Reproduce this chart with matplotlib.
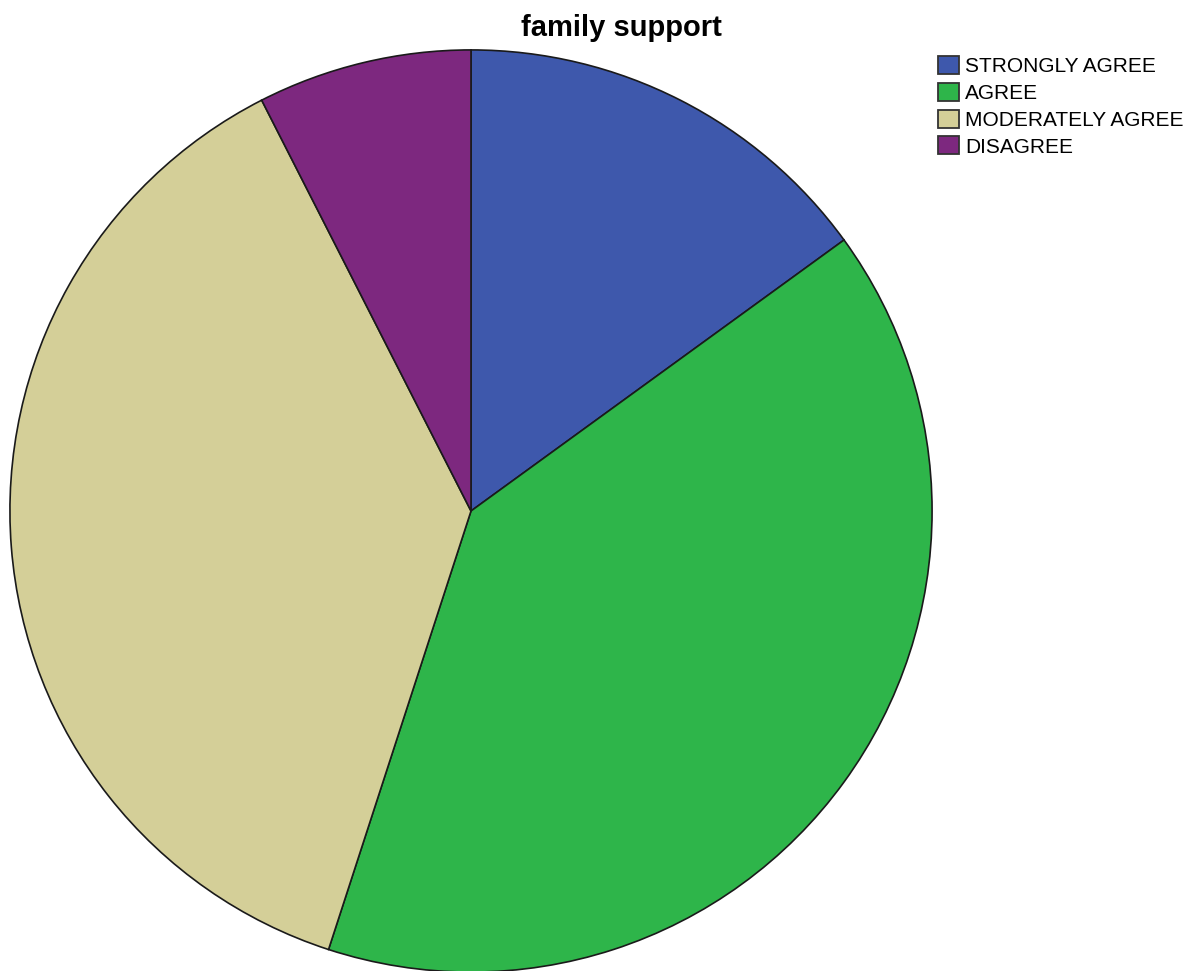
import matplotlib.pyplot as plt
from matplotlib.patches import Patch

labels = ['STRONGLY AGREE', 'AGREE', 'MODERATELY AGREE', 'DISAGREE']
values = [15.0, 40.0, 37.5, 7.5]
colors = ['#3e58ac', '#2eb54a', '#d4cf98', '#7d287f']

fig = plt.figure(figsize=(11.9, 9.71), dpi=100)
ax = fig.add_axes([9 / 1190, -2 / 971, 924 / 1190, 924 / 971])
ax.pie(values, colors=colors, startangle=90, counterclock=False, radius=1,
       wedgeprops=dict(edgecolor='#1a1a1a', linewidth=1.2))
ax.set_xlim(-1.002, 1.002)
ax.set_ylim(-1.002, 1.002)
ax.set_aspect('equal')
ax.axis('off')

fig.text(621 / 1190, 1 - 28 / 971, 'family support', ha='center', va='center',
         fontsize=21, fontweight='bold', family='Liberation Sans')

handles = [Patch(facecolor=c, edgecolor='#333333', linewidth=1.3) for c in colors]
fig.legend(handles, labels, loc='upper left', bbox_to_anchor=(938 / 1190, 1 - 56 / 971),
           frameon=False, handlelength=1.0, handleheight=0.95,
           handletextpad=0.3, labelspacing=0.32, borderaxespad=0, borderpad=0,
           prop={'family': 'Liberation Sans', 'size': 15})

fig.savefig('out.png', dpi=100)
